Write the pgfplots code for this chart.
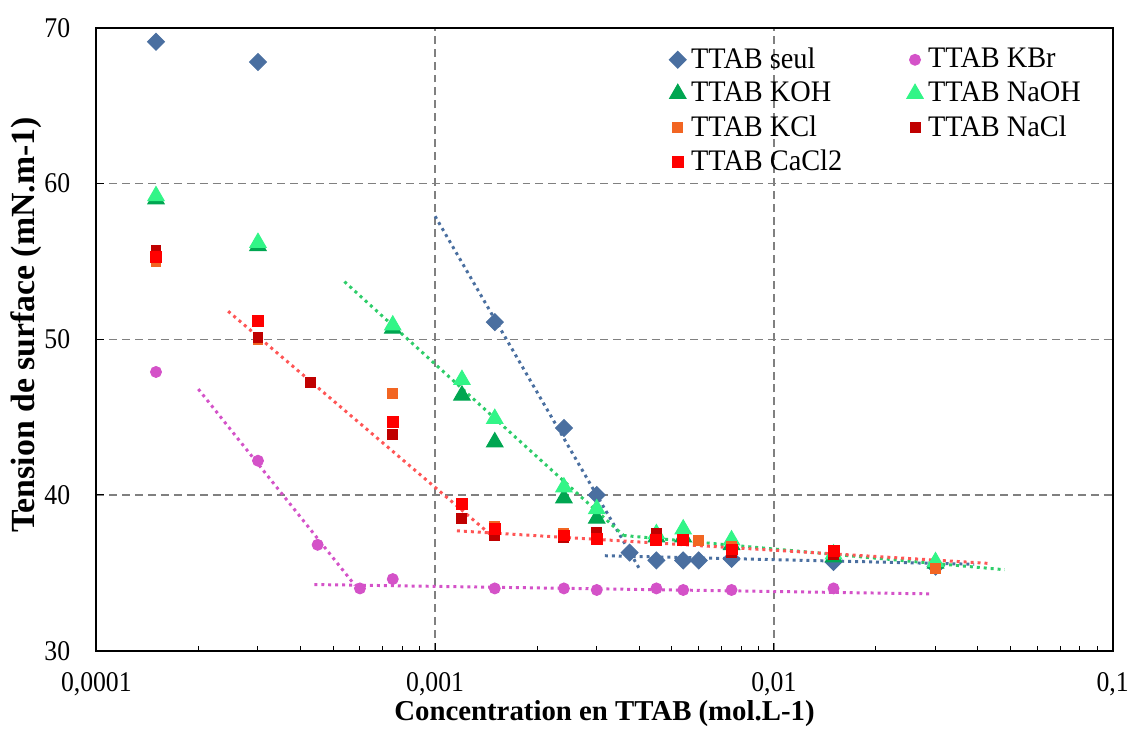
\documentclass[border=0pt]{standalone}
\usepackage{fontspec}
\setmainfont{Liberation Serif}
\newfontfamily\narrowserif{Liberation Serif}[FakeStretch=0.9]
\newfontfamily\legendserif{Liberation Serif}[FakeStretch=0.95]
\usepackage{pgfplots}
\pgfplotsset{compat=1.18}

\definecolor{cSeul}{RGB}{74,111,160}
\definecolor{cKBr}{RGB}{212,82,200}
\definecolor{cKOH}{RGB}{0,166,81}
\definecolor{cNaOH}{RGB}{50,245,135}
\definecolor{cKCl}{RGB}{242,101,34}
\definecolor{cNaCl}{RGB}{192,0,0}
\definecolor{cCaCl}{RGB}{255,0,0}
\definecolor{tGreen}{RGB}{45,205,105}
\definecolor{tRed}{RGB}{255,85,85}

\begin{document}
\begin{tikzpicture}
\begin{axis}[
    scale only axis,
    width=409.2pt, height=250.8pt,
    xmode=log,
    xmin=1e-4, xmax=0.1,
    ymin=30, ymax=70,
    xtick={1e-4,1e-3,1e-2,1e-1},
    xticklabels={{0,0001},{0,001},{0,01},{0,1}},
    minor xtick={2e-4,3e-4,4e-4,5e-4,6e-4,7e-4,8e-4,9e-4,
                 2e-3,3e-3,4e-3,5e-3,6e-3,7e-3,8e-3,9e-3,
                 2e-2,3e-2,4e-2,5e-2,6e-2,7e-2,8e-2,9e-2},
    ytick={30,40,50,60,70},
    yticklabels={30,40,50,60,70},
    tick pos=left,
    tick align=inside,
    major tick length=3.2pt,
    minor tick length=2pt,
    every tick/.style={black, line width=0.4pt},
    axis line style={line width=0.8pt},
    grid=major,
    major grid style={gray, line width=0.5pt, dash pattern=on 3.2pt off 2pt},
    ticklabel style={font=\narrowserif\fontsize{11.5}{13}\selectfont},
    xticklabel style={yshift=-5.4pt},
    yticklabel style={xshift=-7pt},
    xlabel={Concentration en TTAB (mol.L-1)},
    ylabel={Tension de surface (mN.m-1)},
    xlabel style={font=\bfseries\fontsize{11.6}{13}\selectfont,
                  at={(axis description cs:0.5,0)}, anchor=center, yshift=-25.2pt},
    ylabel style={font=\bfseries\fontsize{13.6}{15}\selectfont,
                  at={(axis description cs:-0.0694,0.523)}, anchor=center},
    legend columns=2,
    legend cell align=left,
    legend style={at={(rel axis cs:0.556,0.985)}, anchor=north west,
                  draw=none, fill=none,
                  font=\legendserif\fontsize{12}{13}\selectfont,
                  /tikz/every even column/.append style={column sep=24pt}},
]
% trend lines
\addplot[forget plot, cSeul, line width=1.2pt, dash pattern=on 1.2pt off 1.6pt]
  coordinates {(1e-3,57.9) (4e-3,35.3)};
\addplot[forget plot, cSeul, line width=1.2pt, dash pattern=on 1.2pt off 1.6pt]
  coordinates {(3.17e-3,36.1) (0.039,35.55)};
\addplot[forget plot, cKBr, line width=1.2pt, dash pattern=on 1.2pt off 1.6pt]
  coordinates {(2.0e-4,46.8) (5.8e-4,34.2)};
\addplot[forget plot, cKBr, line width=1.2pt, dash pattern=on 1.2pt off 1.6pt]
  coordinates {(4.4e-4,34.25) (0.029,33.65)};
\addplot[forget plot, tGreen, line width=1.2pt, dash pattern=on 1.2pt off 1.6pt]
  coordinates {(5.4e-4,53.7) (3.6e-3,37.4)};
\addplot[forget plot, tGreen, line width=1.2pt, dash pattern=on 1.2pt off 1.6pt]
  coordinates {(3.6e-3,37.4) (0.048,35.2)};
\addplot[forget plot, tRed, line width=1.2pt, dash pattern=on 1.2pt off 1.6pt]
  coordinates {(2.45e-4,51.8) (1.45e-3,37.5)};
\addplot[forget plot, tRed, line width=1.2pt, dash pattern=on 1.2pt off 1.6pt]
  coordinates {(1.16e-3,37.7) (0.0436,35.6)};

% measured points
\addplot[only marks, color=cSeul, mark=square*, mark size=2.4pt, mark options={rotate=45}]
  coordinates {(1.5e-4,69.1) (3e-4,67.8) (1.5e-3,51.1) (2.4e-3,44.3) (3e-3,40.0)
    (3.75e-3,36.3) (4.5e-3,35.8) (5.4e-3,35.8) (6e-3,35.8) (7.5e-3,35.9)
    (0.015,35.7) (0.03,35.4)};
\addlegendentry{TTAB seul}
\addplot[only marks, color=cKBr, mark=*, mark size=2.2pt]
  coordinates {(1.5e-4,47.9) (3e-4,42.2) (4.5e-4,36.8) (6e-4,34.0) (7.5e-4,34.6)
    (1.5e-3,34.0) (2.4e-3,34.0) (3e-3,33.9) (4.5e-3,34.0) (5.4e-3,33.9)
    (7.5e-3,33.9) (0.015,34.0)};
\addlegendentry{TTAB KBr}
\addplot[only marks, color=cKOH, mark=triangle*, mark size=3.8pt]
  coordinates {(1.5e-4,59.0) (3e-4,56.0) (7.5e-4,50.7) (1.2e-3,46.4) (1.5e-3,43.4)
    (2.4e-3,39.8) (3e-3,38.5) (4.5e-3,37.3) (5.4e-3,37.3) (7.5e-3,36.8)
    (0.015,36.0) (0.03,35.6)};
\addlegendentry{TTAB KOH}
\addplot[only marks, color=cNaOH, mark=triangle*, mark size=3.8pt]
  coordinates {(1.5e-4,59.2) (3e-4,56.2) (7.5e-4,50.9) (1.2e-3,47.4) (1.5e-3,44.9)
    (2.4e-3,40.5) (3e-3,39.1) (4.5e-3,37.5) (5.4e-3,37.8) (7.5e-3,37.1)
    (0.015,36.2) (0.03,35.7)};
\addlegendentry{TTAB NaOH}
\addplot[only marks, color=cKCl, mark=square*, mark size=2pt]
  coordinates {(1.5e-4,55.0) (3e-4,50.0) (7.5e-4,46.5) (1.5e-3,38.0) (2.4e-3,37.5)
    (3e-3,37.4) (4.5e-3,37.5) (6e-3,37.1) (7.5e-3,36.7) (0.015,36.3) (0.03,35.3)};
\addlegendentry{TTAB KCl}
\addplot[only marks, color=cNaCl, mark=square*, mark size=2pt]
  coordinates {(1.5e-4,55.7) (3e-4,50.1) (4.3e-4,47.2) (7.5e-4,43.9) (1.2e-3,38.5)
    (1.5e-3,37.4) (2.4e-3,37.3) (3e-3,37.6) (4.5e-3,37.5) (5.4e-3,37.1)
    (7.5e-3,36.3) (0.015,36.2)};
\addlegendentry{TTAB NaCl}
\addplot[only marks, color=cCaCl, mark=square*, mark size=2.2pt]
  coordinates {(1.5e-4,55.3) (3e-4,51.2) (7.5e-4,44.7) (1.2e-3,39.4) (1.5e-3,37.8)
    (2.4e-3,37.4) (3e-3,37.2) (4.5e-3,37.1) (5.4e-3,37.1) (7.5e-3,36.5)
    (0.015,36.4)};
\addlegendentry{TTAB CaCl2}
\end{axis}
\path (current axis.south west) ++(-38.8pt,-31.2pt) rectangle ++(454.8pt,293.2pt);
\end{tikzpicture}
\end{document}
